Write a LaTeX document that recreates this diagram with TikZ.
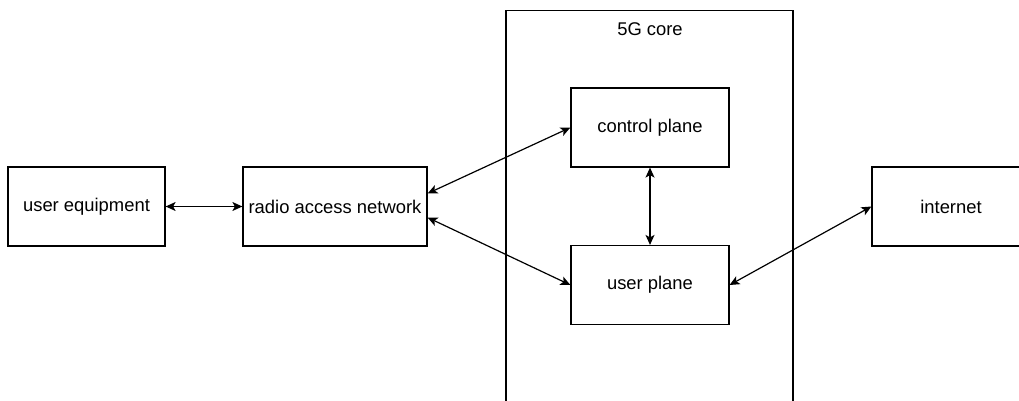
\documentclass[tikz,border=0pt]{standalone}
\usepackage{fontspec}
\setmainfont{Liberation Sans}
\usepackage{tikz}
\usetikzlibrary{arrows.meta}

\begin{document}
\begin{tikzpicture}[
  x=1pt, y=-1pt,
  every node/.style={font=\fontsize{18.4}{22}\selectfont, color=black},
  nbox/.style={draw, line width=1.2pt, minimum height=79pt, inner sep=0pt},
  link/.style={line width=1.2pt, {Stealth[length=10pt,width=9pt,inset=2.5pt]}-{Stealth[length=10pt,width=9pt,inset=2.5pt]}}
]
\useasboundingbox (0,0) rectangle (1019,401);
\clip (0,0) rectangle (1019,401);

% core frame
\node[nbox, minimum width=287pt, minimum height=420pt, anchor=north] (core) at (649.5,10) {};
\node (corelabel) at (650,29) {5G core};

% boxes
\node[nbox, minimum width=157pt] (ue) at (86.5,206.5) {user equipment};
\node[nbox, minimum width=184pt] (ran) at (335,206.5) {radio access network};
\node[nbox, minimum width=158pt] (cp) at (650,127.5) {control plane};
\node[nbox, minimum width=158pt] (up) at (650,285) {user plane};
\node[nbox, minimum width=158pt] (inet) at (951,206.5) {internet};

% links
\draw[link] (ue) -- (ran);
\draw[link] ([yshift=13pt]ran.east) -- (cp.west);
\draw[link] ([yshift=-11pt]ran.east) -- (up.west);
\draw[link] (cp) -- (up);
\draw[link] (up.east) -- (inet.west);
\end{tikzpicture}
\end{document}
